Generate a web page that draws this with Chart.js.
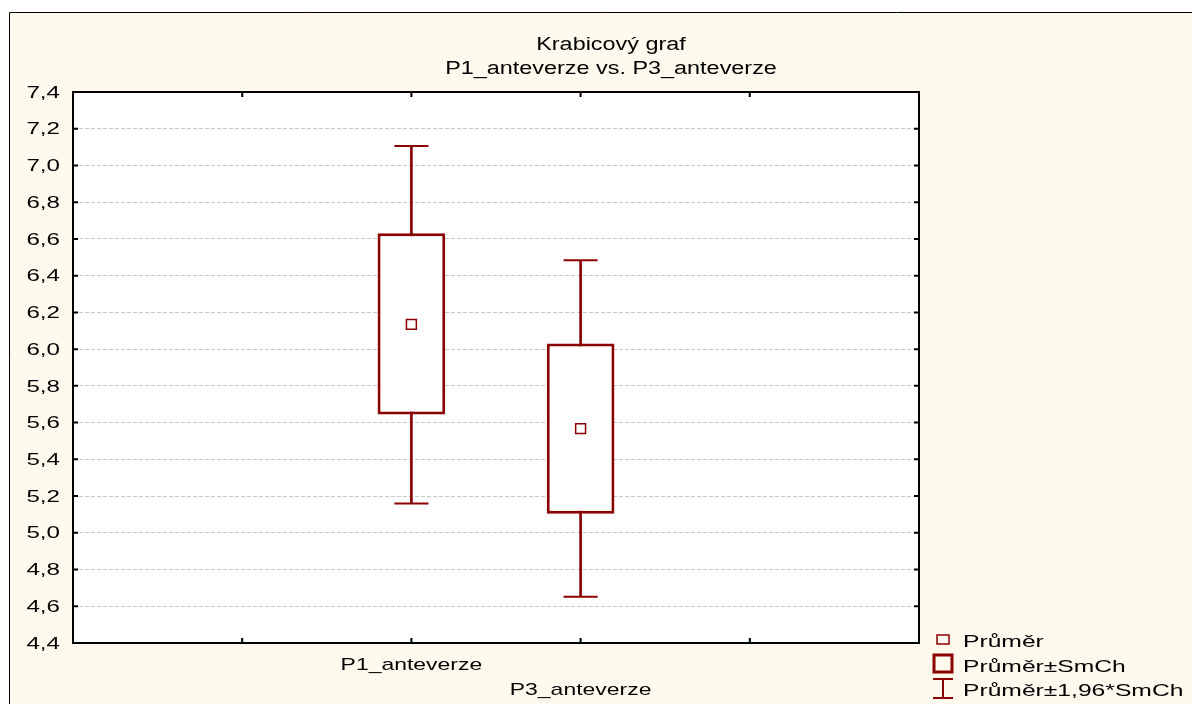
<!DOCTYPE html>
<html>
<head>
<meta charset="utf-8">
<script src="https://cdn.jsdelivr.net/npm/chart.js@4"></script>
<style>
html, body { margin: 0; padding: 0; background: #fff; }
</style>
</head>
<body>
<canvas id="boxChart" width="1192" height="704"></canvas>
<script>
const categories = ['P1_anteverze', 'P3_anteverze'];
const means = [6.135, 5.567];
const seLow = [5.644, 5.104];
const seHigh = [6.631, 6.031];
const ciLow = [5.160, 4.652];
const ciHigh = [7.106, 6.484];
const yMin = 4.4, yMax = 7.4, yStep = 0.2;
const titleLines = ['Krabicový graf', 'P1_anteverze vs. P3_anteverze'];
const legendItems = ['Průměr', 'Průměr±SmCh', 'Průměr±1,96*SmCh'];

const RED = '#8B0000';
const CREAM = '#FFF9EE';
const FONT = '"Liberation Sans", Arial, sans-serif';

// two empty slots each side, the old stats package lays the axis out that way
const labels = ['', '', ...categories, '', ''];
const pad = (arr) => [null, null, ...arr, null, null];

// text in the original is rendered horizontally stretched
function wideText(ctx, text, x, y, align, sx) {
    ctx.save();
    ctx.translate(x, y);
    ctx.scale(sx, 1);
    ctx.textAlign = align;
    ctx.fillText(text, 0, 0);
    ctx.restore();
}

const framePlugin = {
    id: 'framePlugin',
    beforeDraw(chart) {
        const { ctx, chartArea: a } = chart;
        ctx.save();
        ctx.fillStyle = '#fff';
        ctx.fillRect(0, 0, chart.width, chart.height);
        ctx.fillStyle = CREAM;
        ctx.fillRect(9, 12, chart.width - 9, chart.height - 12);
        ctx.strokeStyle = '#000';
        ctx.lineWidth = 1;
        ctx.beginPath();
        ctx.moveTo(9.5, chart.height);
        ctx.lineTo(9.5, 12.5);
        ctx.lineTo(chart.width, 12.5);
        ctx.stroke();
        ctx.fillStyle = '#fff';
        ctx.fillRect(a.left, a.top, a.right - a.left, a.bottom - a.top);
        ctx.restore();
    },
    afterDraw(chart) {
        const { ctx, chartArea: a } = chart;
        const xs = chart.scales.x, ys = chart.scales.y;
        ctx.save();

        // plot frame + inward ticks on all four sides
        ctx.strokeStyle = '#000';
        ctx.lineWidth = 2;
        ctx.strokeRect(a.left, a.top, a.right - a.left, a.bottom - a.top);
        ctx.beginPath();
        ys.ticks.forEach((t) => {
            const y = ys.getPixelForValue(t.value);
            ctx.moveTo(a.left, y); ctx.lineTo(a.left + 5, y);
            ctx.moveTo(a.right, y); ctx.lineTo(a.right - 5, y);
        });
        labels.forEach((l, i) => {
            const x = xs.getPixelForTick(i);
            ctx.moveTo(x, a.bottom); ctx.lineTo(x, a.bottom - 5);
            ctx.moveTo(x, a.top); ctx.lineTo(x, a.top + 5);
        });
        ctx.stroke();

        ctx.fillStyle = '#000';
        ctx.font = '17px ' + FONT;

        // y tick labels
        ctx.textBaseline = 'middle';
        ys.ticks.forEach((t) => {
            const txt = t.value.toFixed(1).replace('.', ',');
            wideText(ctx, txt, a.left - 13, ys.getPixelForValue(t.value) + 1, 'right', 1.42);
        });

        // category labels, staggered in two rows
        categories.forEach((c, i) => {
            const x = xs.getPixelForTick(i + 2);
            wideText(ctx, c, x, a.bottom + 22 + (i % 2) * 25, 'center', 1.35);
        });

        // title
        ctx.font = '18px ' + FONT;
        titleLines.forEach((t, i) => {
            wideText(ctx, t, 611, 45 + i * 24, 'center', 1.3);
        });

        // legend
        ctx.font = '17px ' + FONT;
        ctx.textBaseline = 'alphabetic';
        const rows = [647, 672, 696];
        legendItems.forEach((t, i) => wideText(ctx, t, 963, rows[i], 'left', 1.45));

        ctx.strokeStyle = RED;
        ctx.lineWidth = 1.5;
        ctx.strokeRect(937, 635, 12, 9);
        ctx.lineWidth = 3;
        ctx.strokeRect(934, 655, 18, 17);
        ctx.lineWidth = 2;
        ctx.beginPath();
        ctx.moveTo(933, 679); ctx.lineTo(953, 679);
        ctx.moveTo(943, 679); ctx.lineTo(943, 698);
        ctx.moveTo(933, 698); ctx.lineTo(953, 698);
        ctx.stroke();

        ctx.restore();
    }
};

new Chart(document.getElementById('boxChart'), {
    type: 'bar',
    data: {
        labels,
        datasets: [
            {
                label: 'Průměr',
                type: 'line',
                data: pad(means),
                showLine: false,
                pointStyle: 'rect',
                pointRadius: 7,
                pointBackgroundColor: '#fff',
                pointBorderColor: RED,
                pointBorderWidth: 1.5,
                order: 0
            },
            {
                label: 'ci high',
                type: 'line',
                data: pad(ciHigh),
                showLine: false,
                pointStyle: 'line',
                pointRadius: 17,
                pointBorderColor: RED,
                pointBorderWidth: 2,
                order: 0
            },
            {
                label: 'ci low',
                type: 'line',
                data: pad(ciLow),
                showLine: false,
                pointStyle: 'line',
                pointRadius: 17,
                pointBorderColor: RED,
                pointBorderWidth: 2,
                order: 0
            },
            {
                label: 'Průměr±SmCh',
                data: pad(seLow.map((v, i) => [v, seHigh[i]])),
                backgroundColor: '#fff',
                borderColor: RED,
                borderWidth: 3,
                borderSkipped: false,
                barPercentage: 0.4,
                categoryPercentage: 1,
                grouped: false,
                order: 1
            },
            {
                label: 'Průměr±1,96*SmCh',
                data: pad(ciLow.map((v, i) => [v, ciHigh[i]])),
                backgroundColor: RED,
                barThickness: 2,
                grouped: false,
                order: 2
            }
        ]
    },
    options: {
        responsive: false,
        animation: false,
        devicePixelRatio: 1,
        layout: { padding: { left: 73, top: 92, right: 273, bottom: 53 } },
        plugins: { legend: { display: false }, tooltip: { enabled: false } },
        scales: {
            x: {
                type: 'category',
                offset: false,
                grid: { display: false },
                ticks: { display: false },
                border: { display: false }
            },
            y: {
                min: yMin,
                max: yMax,
                ticks: { stepSize: yStep, display: false },
                grid: { color: '#c8c8c8', lineWidth: 1, drawTicks: false },
                border: { display: false, dash: [4, 2] }
            }
        }
    },
    plugins: [framePlugin]
});
</script>
</body>
</html>
